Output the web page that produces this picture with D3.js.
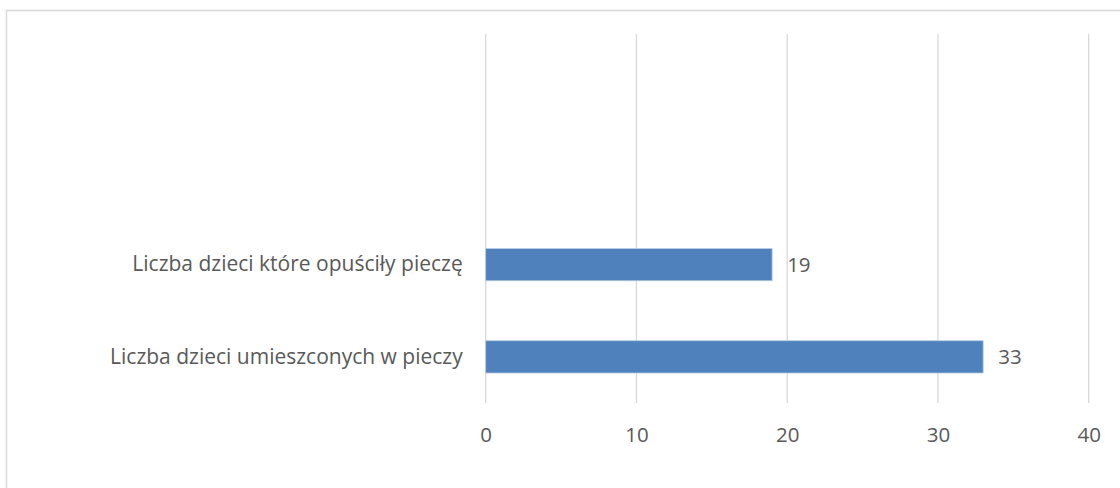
<!DOCTYPE html>
<html>
<head>
<meta charset="utf-8">
<script src="https://cdn.jsdelivr.net/npm/d3@7"></script>
<style>
  html, body { margin: 0; padding: 0; background: #fff; }
  svg { display: block; }
  text { font-family: "Open Sans", "Liberation Sans", sans-serif; fill: #595959; }
</style>
</head>
<body>
<svg id="chart" width="1120" height="488"></svg>
<script>
// Categories (bottom to top, as in the source sheet; two empty rows on top)
const categories = ["Liczba dzieci umieszconych w pieczy", "Liczba dzieci które opuściły pieczę", "", ""];
const values = [33, 19, null, null];
const xTicks = [0, 10, 20, 30, 40];

const svg = d3.select("#chart");
const W = 1120, H = 488;

// chart border
svg.append("rect")
  .attr("x", 6.5).attr("y", 10.5)
  .attr("width", W + 10).attr("height", H + 10)
  .attr("fill", "none").attr("stroke", "#d9d9d9").attr("stroke-width", 1.5);

const plot = { left: 485.7, right: 1088.7, top: 34, bottom: 403 };

const x = d3.scaleLinear().domain([0, 40]).range([plot.left, plot.right]);
const idx = d3.range(categories.length);
const y = d3.scaleBand()
  .domain(idx.slice().reverse())
  .range([plot.top, plot.bottom])
  .paddingInner(0.65).paddingOuter(0.325);

// gridlines
svg.append("g").selectAll("line").data(xTicks).join("line")
  .attr("x1", d => x(d)).attr("x2", d => x(d))
  .attr("y1", plot.top).attr("y2", plot.bottom)
  .attr("stroke", "#d9d9d9").attr("stroke-width", 1.3);

// x axis
const xAxis = d3.axisBottom(x).tickValues(xTicks).tickSize(0).tickPadding(0).tickFormat(d3.format("d"));
const gx = svg.append("g").attr("transform", `translate(0,${plot.bottom})`).call(xAxis);
gx.select(".domain").remove();
gx.selectAll("text")
  .attr("dy", null).attr("y", 39)
  .style("font-size", "20.5px").style("font-family", "'Open Sans', sans-serif").attr("fill", "#595959");

// y axis (category labels)
const yAxis = d3.axisLeft(y).tickSize(0).tickPadding(23).tickFormat(i => categories[i]);
const gy = svg.append("g").attr("transform", `translate(${plot.left},0)`).call(yAxis);
gy.select(".domain").remove();
gy.selectAll("text")
  .style("font-size", "21px").style("font-family", "'Open Sans', sans-serif").attr("fill", "#595959");

// bars
const data = idx.filter(i => values[i] != null).map(i => ({ i, v: values[i] }));
svg.append("g").selectAll("rect").data(data).join("rect")
  .attr("x", x(0))
  .attr("y", d => y(d.i))
  .attr("width", d => x(d.v) - x(0))
  .attr("height", y.bandwidth())
  .attr("fill", "#4f81bd")
  .attr("stroke", "#b9cde5").attr("stroke-width", 0.8);

// data labels
svg.append("g").selectAll("text").data(data).join("text")
  .attr("x", d => x(d.v) + 15)
  .attr("y", d => y(d.i) + y.bandwidth() / 2)
  .attr("dy", "0.35em")
  .style("font-size", "20.5px")
  .text(d => d.v);
</script>
</body>
</html>
